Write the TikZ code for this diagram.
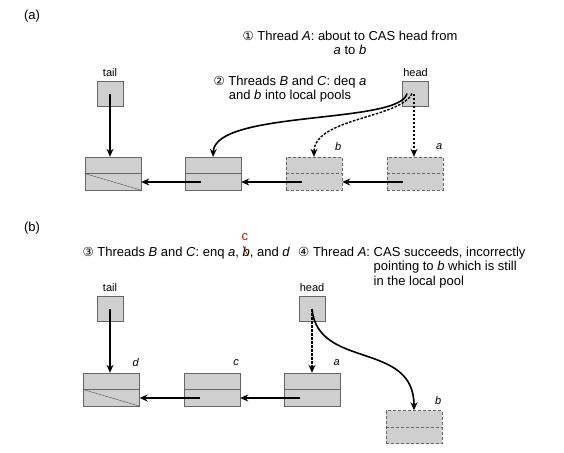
\documentclass[tikz,border=0pt]{standalone}
\usepackage{fontspec}
\setmainfont{Liberation Sans}
\newfontfamily\circfont{DejaVu Sans}
\usetikzlibrary{positioning,arrows.meta}

\newcommand{\circnum}[1]{{\circfont\fontsize{12.5}{12.5}\selectfont #1}}
\newcommand{\redfix}[1]{\makebox[0pt][l]{\raisebox{10pt}{\textcolor{red}{\rotatebox{-63}{\rule{11pt}{0.7pt}}}}}\makebox[0pt][l]{\hspace{-1pt}\raisebox{16pt}{\textcolor{red}{\upshape c}}}#1}

\begin{document}
\begin{tikzpicture}[x=1pt,y=-1pt,
    every node/.style={font=\fontsize{13}{14.5}\selectfont},
    ptrbox/.style={draw=black!60,fill=black!19,minimum width=26pt,minimum height=25pt,inner sep=0pt},
    cell/.style={draw=black!60,fill=black!19,minimum width=56pt,minimum height=33pt,inner sep=0pt},
    pooled/.style={cell,dash pattern=on 3pt off 2pt},
    varname/.style={font=\fontsize{11}{11}\selectfont,inner sep=1pt},
    tag/.style={font=\fontsize{11}{11}\selectfont\itshape,inner sep=1pt},
    link/.style={black,line width=1.6pt,-{Stealth[length=8pt,width=7pt]}},
    maybe/.style={link,line width=1.4pt,dash pattern=on 2.5pt off 1.5pt}]
    \path[use as bounding box] (0,0) rectangle (564,452);

    % (a) Nodes
    \node (lblA) at (32,16) {(a)};
    \node[align=center] (note1) at (350,43) {\circnum{①} Thread \textit{A}: about to CAS head from\\\textit{a} to \textit{b}\hspace{16pt}};
    \node[align=center] (note2) at (290,89) {\circnum{②} Threads \textit{B} and \textit{C}: deq \textit{a}\\and \textit{b} into local pools};

    \node[ptrbox] (tailA) at (110,93.5) {};
    \node[varname,above=3pt of tailA] (tailAname) {tail};
    \node[ptrbox] (headA) at (415.5,93.5) {};
    \node[varname,above=3pt of headA] (headAname) {head};

    \node[cell] (n1A) at (113,173.5) {};
    \node[cell] (n2A) at (213,173.5) {};
    \node[pooled] (nbA) at (314,173.5) {};
    \node[pooled] (naA) at (415,173.5) {};
    \node[tag] (tagbA) at ([shift={(-4pt,10pt)}]nbA.north east) {b};
    \node[tag] (tagaA) at ([shift={(-4pt,10pt)}]naA.north east) {a};

    % (b) Nodes
    \node (lblB) at (32,228) {(b)};
    \node[anchor=base west] (note3) at (79,256) {\circnum{③} Threads \textit{B} and \textit{C}: enq \textit{a}, \redfix{\textit{b}}, and \textit{d}};
    \node[anchor=north west,inner sep=0pt] (note4) at (298,246) {\begin{tabular}{@{}l@{ }l@{}}
        \circnum{④} Thread \textit{A}: & CAS succeeds, incorrectly\\
        & pointing to \textit{b} which is still\\
        & in the local pool
      \end{tabular}};

    \node[ptrbox] (tailB) at (110,309) {};
    \node[varname,above=3pt of tailB] (tailBname) {tail};
    \node[ptrbox] (headB) at (312,309) {};
    \node[varname,above=3pt of headB] (headBname) {head};

    \node[cell] (ndB) at (111.5,389.5) {};
    \node[cell] (ncB) at (212,389.5) {};
    \node[cell] (naB) at (312.5,389.5) {};
    \node[pooled] (nbB) at (414,427) {};
    \node[tag] (tagdB) at ([shift={(-4pt,10pt)}]ndB.north east) {d};
    \node[tag] (tagcB) at ([shift={(-4pt,10pt)}]ncB.north east) {c};
    \node[tag] (tagaB) at ([shift={(-4pt,10pt)}]naB.north east) {a};
    \node[tag] (tagbB) at ([shift={(-4pt,10pt)}]nbB.north east) {b};

    % Dividers
    \foreach \n in {n1A,n2A,ndB,ncB,naB}
      \draw[black!60] (\n.west) -- (\n.east);
    \foreach \n in {nbA,naA,nbB}
      \draw[black!60,dash pattern=on 3pt off 2pt] (\n.west) -- (\n.east);
    \draw[black!70] (n1A.west) -- (n1A.south east);
    \draw[black!70] (ndB.west) -- (ndB.south east);

    % (a) Arrows
    \draw[link] (tailA.center) -- (tailA.center |- n1A.north);
    \draw[link] ([xshift=-8.5pt]headA.center) .. controls +(-7,31) and +(2,-47) .. (n2A.north);
    \draw[maybe] ([xshift=-3.5pt]headA.center) .. controls +(-12,25) and +(0,-39) .. (nbA.north);
    \draw[maybe] ([xshift=-1.5pt]headA.center) -- ([xshift=-1.5pt]headA.center |- naA.north);
    \draw[link] ([shift={(16pt,-8.5pt)}]naA.west) -- ([yshift=-8.5pt]nbA.east);
    \draw[link] ([shift={(16pt,-8.5pt)}]nbA.west) -- ([yshift=-8.5pt]n2A.east);
    \draw[link] ([shift={(16pt,-8.5pt)}]n2A.west) -- ([yshift=-8.5pt]n1A.east);

    % (b) Arrows
    \draw[link] (tailB.center) -- (tailB.center |- ndB.north);
    \draw[maybe] (headB.center) -- (headB.center |- naB.north);
    \draw[link] (headB.center) .. controls +(6,61) and +(0,-70) .. (nbB.north);
    \draw[link] ([shift={(16pt,-8.5pt)}]naB.west) -- ([yshift=-8.5pt]ncB.east);
    \draw[link] ([shift={(16pt,-8.5pt)}]ncB.west) -- ([yshift=-8.5pt]ndB.east);
\end{tikzpicture}
\end{document}
